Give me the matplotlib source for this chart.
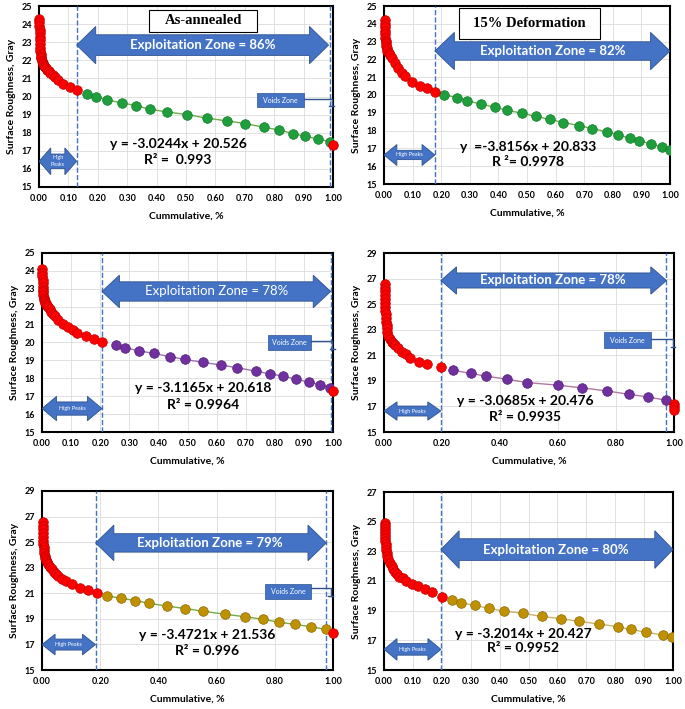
import numpy as np
import matplotlib.pyplot as plt
from matplotlib.patches import Polygon, Rectangle
from matplotlib.ticker import MultipleLocator

plt.rcParams['font.family'] = ['Lato', 'DejaVu Sans']

# ---------------- data ----------------
# (a) As-annealed
a_peak_x = [0.000, 0.001, 0.001, 0.002, 0.002, 0.003, 0.003, 0.004, 0.004, 0.005, 0.006, 0.007,
            0.008, 0.010, 0.012, 0.014, 0.017, 0.020, 0.024, 0.028, 0.033, 0.039, 0.046, 0.055,
            0.066, 0.083, 0.105, 0.128]
a_peak_y = [24.3, 24.1, 23.9, 23.7, 23.5, 23.3, 23.1, 22.9, 22.7, 22.5, 22.35, 22.2,
            22.1, 21.95, 21.85, 21.78, 21.7, 21.62, 21.55, 21.48, 21.42, 21.32, 21.2, 21.05,
            20.9, 20.68, 20.5, 20.35]
a_core_x = [0.162, 0.193, 0.232, 0.282, 0.329, 0.376, 0.434, 0.504, 0.572, 0.641, 0.702,
            0.766, 0.817, 0.864, 0.906, 0.949, 0.989]
a_core_y = [20.15, 20.0, 19.8, 19.65, 19.5, 19.3, 19.15, 19.0, 18.8, 18.65, 18.5,
            18.3, 18.15, 17.95, 17.8, 17.65, 17.5]
a_void_x = [1.0]
a_void_y = [17.3]

# (b) 15% Deformation
b_peak_x = [0.003, 0.003, 0.004, 0.004, 0.005, 0.005, 0.006, 0.007, 0.008, 0.009, 0.012,
            0.016, 0.020, 0.027, 0.038, 0.050, 0.062, 0.073, 0.097, 0.126, 0.149, 0.178]
b_peak_y = [24.2, 24.0, 23.8, 23.6, 23.4, 23.2, 23.05, 22.9, 22.75, 22.65, 22.5,
            22.38, 22.25, 22.06, 21.78, 21.5, 21.25, 21.07, 20.75, 20.5, 20.37, 20.19]
b_core_x = [0.210, 0.254, 0.291, 0.339, 0.387, 0.431, 0.484, 0.530, 0.580, 0.627, 0.683,
            0.727, 0.780, 0.819, 0.860, 0.893, 0.934, 0.971, 1.0]
b_core_y = [20.02, 19.85, 19.68, 19.49, 19.31, 19.14, 18.97, 18.80, 18.63, 18.45, 18.28,
            18.11, 17.94, 17.75, 17.58, 17.42, 17.25, 17.06, 16.89]
b_void_x = []
b_void_y = []

# (c)
c_peak_x = [0.000, 0.001, 0.001, 0.002, 0.002, 0.003, 0.003, 0.004, 0.005, 0.006, 0.007,
            0.009, 0.011, 0.014, 0.017, 0.021, 0.026, 0.032, 0.038, 0.044, 0.055, 0.072,
            0.089, 0.105, 0.120, 0.150, 0.179, 0.206]
c_peak_y = [24.1, 23.9, 23.7, 23.5, 23.3, 23.1, 22.95, 22.8, 22.65, 22.5, 22.4,
            22.3, 22.2, 22.12, 22.08, 22.0, 21.88, 21.73, 21.6, 21.49, 21.26, 21.02,
            20.85, 20.7, 20.55, 20.36, 20.2, 20.03]
c_core_x = [0.253, 0.286, 0.332, 0.384, 0.439, 0.490, 0.553, 0.616, 0.671, 0.734, 0.782,
            0.828, 0.874, 0.916, 0.956, 0.989]
c_core_y = [19.86, 19.71, 19.54, 19.39, 19.21, 19.06, 18.89, 18.74, 18.59, 18.40, 18.25,
            18.12, 17.95, 17.79, 17.64, 17.47]
c_void_x = [1.0]
c_void_y = [17.3]

# (d)
d_peak_x = [0.002, 0.002, 0.003, 0.003, 0.004, 0.004, 0.005, 0.005, 0.006, 0.007, 0.008,
            0.009, 0.010, 0.012, 0.015, 0.020, 0.026, 0.032, 0.038, 0.049, 0.063, 0.075,
            0.090, 0.120, 0.149, 0.196]
d_peak_y = [26.6, 26.3, 26.0, 25.7, 25.4, 25.1, 24.8, 24.5, 24.2, 23.9, 23.6,
            23.35, 23.1, 22.85, 22.5, 22.25, 22.06, 21.93, 21.8, 21.54, 21.28, 21.07,
            20.75, 20.49, 20.28, 20.05]
d_core_x = [0.237, 0.300, 0.351, 0.423, 0.493, 0.600, 0.684, 0.769, 0.844, 0.910, 0.974]
d_core_y = [19.84, 19.58, 19.37, 19.13, 18.87, 18.66, 18.45, 18.21, 17.95, 17.74, 17.48]
d_void_x = [1.0, 1.0, 1.0]
d_void_y = [17.22, 16.96, 16.75]

# (e)
e_peak_x = [0.002, 0.002, 0.003, 0.003, 0.004, 0.004, 0.005, 0.006, 0.007, 0.008, 0.009,
            0.011, 0.013, 0.017, 0.021, 0.026, 0.033, 0.040, 0.047, 0.054, 0.069, 0.084,
            0.103, 0.129, 0.159, 0.190]
e_peak_y = [26.6, 26.3, 26.0, 25.7, 25.4, 25.1, 24.85, 24.6, 24.35, 24.15, 23.95,
            23.78, 23.62, 23.45, 23.3, 23.06, 22.87, 22.67, 22.5, 22.33, 22.15, 21.94,
            21.71, 21.45, 21.24, 21.03]
e_core_x = [0.224, 0.272, 0.320, 0.368, 0.431, 0.492, 0.552, 0.630, 0.699, 0.759, 0.814,
            0.871, 0.925, 0.977]
e_core_y = [20.80, 20.61, 20.43, 20.22, 19.99, 19.81, 19.60, 19.36, 19.16, 18.97, 18.74,
            18.56, 18.38, 18.17]
e_void_x = [1.0]
e_void_y = [17.9]

# (f)
f_peak_x = [0.002, 0.002, 0.003, 0.003, 0.004, 0.004, 0.005, 0.006, 0.007, 0.008, 0.009,
            0.011, 0.015, 0.020, 0.026, 0.032, 0.038, 0.045, 0.053, 0.065, 0.076, 0.096,
            0.119, 0.142, 0.167, 0.199]
f_peak_y = [24.9, 24.7, 24.5, 24.3, 24.1, 23.9, 23.7, 23.5, 23.3, 23.1, 22.9,
            22.7, 22.45, 22.18, 21.98, 21.78, 21.62, 21.46, 21.3, 21.17, 21.0, 20.83,
            20.65, 20.45, 20.27, 19.94]
f_core_x = [0.234, 0.268, 0.315, 0.364, 0.415, 0.482, 0.545, 0.612, 0.675, 0.743, 0.808,
            0.853, 0.908, 0.965, 0.998]
f_core_y = [19.71, 19.53, 19.35, 19.15, 18.97, 18.82, 18.61, 18.46, 18.28, 18.10, 17.92,
            17.74, 17.54, 17.36, 17.20]
f_void_x = []
f_void_y = []

titles = ['As-annealed', '15% Deformation']
zones = ['Exploitation Zone = 86%', 'Exploitation Zone = 82%', 'Exploitation Zone = 78%',
         'Exploitation Zone = 78%', 'Exploitation Zone = 79%', 'Exploitation Zone = 80%']
equations = ['y = -3.0244x + 20.526', 'y  =-3.8156x + 20.833', 'y = -3.1165x + 20.618',
             'y = -3.0685x + 20.476', 'y = -3.4721x + 21.536', 'y = -3.2014x + 20.427']
r2_labels = ['R² =  0.993', 'R ²= 0.9978', 'R² = 0.9964',
             'R² = 0.9935', 'R² = 0.996', 'R² = 0.9952']

BLUE = '#4472c4'
BLUE_EDGE = '#2f528f'


def dbl_arrow(ax, x0, x1, yc, bh, hh, hl):
    pts = [(x0, yc), (x0 + hl, yc + hh), (x0 + hl, yc + bh), (x1 - hl, yc + bh),
           (x1 - hl, yc + hh), (x1, yc), (x1 - hl, yc - hh), (x1 - hl, yc - bh),
           (x0 + hl, yc - bh), (x0 + hl, yc - hh)]
    ax.add_patch(Polygon(pts, closed=True, fc=BLUE, ec=BLUE_EDGE, lw=0.6, zorder=4))


def base(ax, peak, core, void, dot, dot_edge, line, ylim, ystep, xstep):
    ax.set_xlim(0, 1)
    ax.set_ylim(*ylim)
    ax.xaxis.set_major_locator(MultipleLocator(xstep))
    ax.set_yticks(np.arange(ylim[0], ylim[1] + 0.1, ystep))
    ax.xaxis.set_major_formatter(lambda v, p: f'{v:.2f}')
    ax.grid(True, color='#dcdcdc', lw=0.6, zorder=0)
    ax.tick_params(length=0, labelsize=6.5, pad=5)
    for t in ax.get_xticklabels() + ax.get_yticklabels():
        t.set_fontweight('bold')
    for s in ax.spines.values():
        s.set_linewidth(1.5)
        s.set_color('black')
    ax.set_xlabel('Cummulative, %', fontsize=7.5, fontweight='bold', labelpad=6)
    ax.set_ylabel('Surface Roughness, Gray', fontsize=7.5, fontweight='bold', labelpad=4)
    ax.plot(core[0], core[1], color=line, lw=1, zorder=3)
    ax.scatter(core[0], core[1], s=48, color=dot, edgecolors=dot_edge, lw=0.5, zorder=5)
    ax.scatter(peak[0], peak[1], s=48, color='#ff0000', edgecolors='#c00000', lw=0.5,
               zorder=5, clip_on=False)
    if void[0]:
        ax.scatter(void[0], void[1], s=48, color='#ff0000', edgecolors='#c00000', lw=0.5,
                   zorder=6, clip_on=False)


def decorate(ax, i, lines, zone, hp, eq, voids=None, bold_zone=True, hp_text='High Peaks'):
    for xv in lines:
        ax.axvline(xv, color=BLUE, ls='--', lw=1, zorder=3)
    x0, x1, yc, bh, hh, hl, tx = zone
    dbl_arrow(ax, x0, x1, yc, bh, hh, hl)
    ax.text(tx, yc, zones[i], color='white', fontsize=9.5,
            fontweight='bold' if bold_zone else 'normal', ha='center', va='center', zorder=5)
    x0, x1, yc, bh, hh, hl = hp
    dbl_arrow(ax, x0, x1, yc, bh, hh, hl)
    ax.text((x0 + x1) / 2, yc, hp_text, color='white', fontsize=4, ha='center', va='center',
            zorder=5, linespacing=1.6)
    ex, ey1, ey2 = eq
    ax.text(ex, ey1, equations[i], fontsize=10, fontweight='bold', ha='center', va='center', zorder=6)
    ax.text(ex, ey2, r2_labels[i], fontsize=10, fontweight='bold', ha='center', va='center', zorder=6)
    if voids:
        bx0, bx1, by0, by1, ly, lx, ly2 = voids
        ax.add_patch(Rectangle((bx0, by0), bx1 - bx0, by1 - by0, fc=BLUE, ec=BLUE_EDGE,
                               lw=0.5, zorder=4))
        ax.text((bx0 + bx1) / 2, (by0 + by1) / 2, 'Voids Zone', color='white', fontsize=5,
                ha='center', va='center', zorder=5)
        ax.plot([bx1, lx, lx], [ly, ly, ly2], color=BLUE_EDGE, lw=1, zorder=4, clip_on=False)
        ax.plot([lx - 0.008, lx + 0.008], [ly2, ly2], color=BLUE_EDGE, lw=1, zorder=4, clip_on=False)


def title_box(ax, text, x0, x1, y0, y1):
    ax.add_patch(Rectangle((x0, y0), x1 - x0, y1 - y0, fc='white', ec='black', lw=0.8, zorder=4))
    ax.text((x0 + x1) / 2, (y0 + y1) / 2, text, family='Liberation Serif', fontsize=10.5,
            fontweight='bold', ha='center', va='center', zorder=5)


fig = plt.figure(figsize=(6.85, 7.09), dpi=100)
W, H = 685, 709


def add_ax(l, r, t, b):
    return fig.add_axes([l / W, 1 - b / H, (r - l) / W, (b - t) / H])


ax1 = add_ax(39, 333, 6, 187)
ax2 = add_ax(384, 670, 6, 184)
ax3 = add_ax(42, 333, 253, 432)
ax4 = add_ax(384, 674, 253, 432)
ax5 = add_ax(42, 333, 491, 670)
ax6 = add_ax(384, 673, 492, 670)

GREEN, GREEN_E, GREEN_L = '#1e9e3c', '#137a2a', '#70ad47'
PURP, PURP_E = '#7030a0', '#4f2171'
OLIVE, OLIVE_E = '#bf9000', '#8a6a00'

base(ax1, (a_peak_x, a_peak_y), (a_core_x, a_core_y), (a_void_x, a_void_y),
     GREEN, GREEN_E, GREEN_L, (15, 25), 1, 0.1)
decorate(ax1, 0, [0.128, 0.989], (0.128, 0.985, 22.84, 0.57, 1.03, 0.065, 0.558),
         (0.0, 0.128, 16.42, 0.40, 0.74, 0.04), (0.473, 17.4, 16.51),
         voids=(0.74, 0.902, 19.43, 20.17, 19.85, 0.995, 19.5), hp_text='High\nPeaks')
title_box(ax1, titles[0], 0.374, 0.742, 23.58, 24.78)

base(ax2, (b_peak_x, b_peak_y), (b_core_x, b_core_y), (b_void_x, b_void_y),
     GREEN, GREEN_E, GREEN_L, (15, 25), 1, 0.1)
decorate(ax2, 1, [0.178], (0.178, 1.0, 22.47, 0.52, 1.05, 0.068, 0.589),
         (0.0, 0.178, 16.63, 0.26, 0.59, 0.045), (0.505, 17.1, 16.22))
title_box(ax2, titles[1], 0.263, 0.755, 23.13, 24.87)

base(ax3, (c_peak_x, c_peak_y), (c_core_x, c_core_y), (c_void_x, c_void_y),
     PURP, PURP_E, '#9b72b8', (15, 25), 1, 0.1)
decorate(ax3, 2, [0.206, 0.992], (0.206, 0.992, 22.85, 0.54, 0.91, 0.06, 0.601),
         (0.0, 0.206, 16.31, 0.37, 0.68, 0.05), (0.553, 17.47, 16.53),
         voids=(0.777, 0.923, 19.58, 20.42, 20.08, 0.998, 19.64), bold_zone=False)

base(ax4, (d_peak_x, d_peak_y), (d_core_x, d_core_y), (d_void_x, d_void_y),
     PURP, PURP_E, '#b07a9e', (15, 29), 2, 0.2)
decorate(ax4, 3, [0.196, 0.974], (0.196, 0.974, 26.85, 0.59, 1.07, 0.054, 0.583),
         (0.0, 0.196, 16.64, 0.39, 0.72, 0.045), (0.486, 17.43, 16.17),
         voids=(0.759, 0.92, 21.54, 22.85, 22.27, 0.997, 21.67))

base(ax5, (e_peak_x, e_peak_y), (e_core_x, e_core_y), (e_void_x, e_void_y),
     OLIVE, OLIVE_E, GREEN_L, (15, 29), 2, 0.2)
decorate(ax5, 4, [0.184, 0.977], (0.184, 0.977, 24.94, 0.72, 1.39, 0.063, 0.578),
         (0.0, 0.184, 16.99, 0.43, 0.81, 0.045), (0.567, 17.72, 16.47),
         voids=(0.767, 0.923, 20.59, 21.76, 21.45, 0.992, 20.77))

base(ax6, (f_peak_x, f_peak_y), (f_core_x, f_core_y), (f_void_x, f_void_y),
     OLIVE, OLIVE_E, '#c8b46e', (15, 27), 2, 0.1)
decorate(ax6, 5, [0.197], (0.197, 1.0, 23.12, 0.73, 1.27, 0.063, 0.594),
         (0.0, 0.197, 16.39, 0.39, 0.73, 0.045), (0.482, 17.43, 16.46))

fig.savefig('out.png', dpi=100)
